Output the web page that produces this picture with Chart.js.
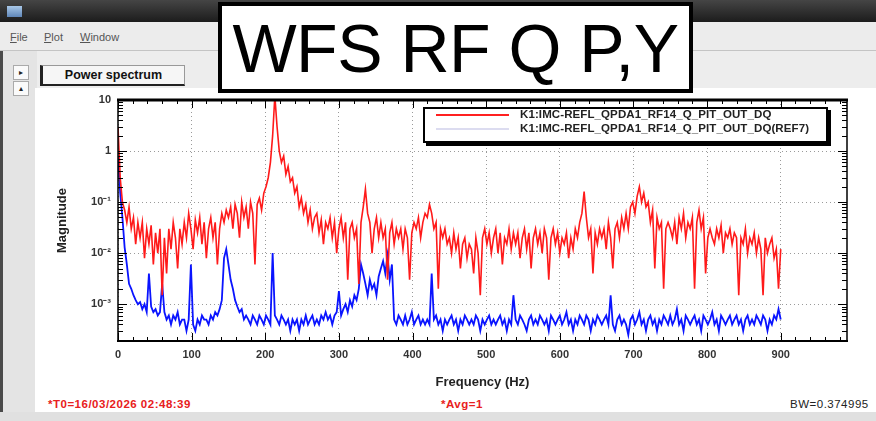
<!DOCTYPE html>
<html>
<head>
<meta charset="utf-8">
<script src="https://cdn.jsdelivr.net/npm/chart.js@4.4.1/dist/chart.umd.min.js"></script>
<style>
  body { margin:0; width:876px; height:421px; overflow:hidden; position:relative; background:#e6e6e6; font-family:"Liberation Sans", Arial, sans-serif; }
  .abs { position:absolute; }
  #titlebar { left:0; top:0; width:876px; height:22px; background:linear-gradient(#454545,#1c1c1c); }
  #icon { left:7px; top:6px; width:15px; height:11px; background:linear-gradient(#a9c8e8,#5f86b8); }
  #menubar { left:0; top:22px; width:876px; height:28px; background:#ececec; border-bottom:1px solid #c4c4c4; }
  .menu { top:31px; font-size:11px; color:#555; }
  #tabarea { left:0; top:51px; width:876px; height:38px; background:#ededed; }
  #tabbtn { left:40px; top:65px; width:141px; height:18px; background:#f6f6f6; border:1px solid #999; border-left:3px solid #222; border-bottom:2px solid #222; font-weight:bold; font-size:12.5px; color:#111; text-align:center; line-height:18px; }
  .sbtn { left:13px; width:14px; height:13px; background:#fafafa; border:1px solid #aaa; font-size:8px; text-align:center; line-height:13px; color:#222; }
  #leftstrip { left:0; top:51px; width:34px; height:370px; background:#e4e4e4; border-left:3px solid #4a4a4a; }
  #panel { left:35px; top:88px; width:841px; height:324px; background:#fff; }
  #bottomstrip { left:0; top:412px; width:876px; height:9px; background:#e0e0e0; }
  #overlay { left:218px; top:2px; width:467px; height:83px; border:4px solid #000; background:#fff; font-size:68px; line-height:84px; text-align:center; color:#000; z-index:5; letter-spacing:-0.5px; }
  #legend { left:423px; top:107px; width:401px; height:32px; border:2px solid #000; box-shadow:3px 3px 0 #000; background:#fff; z-index:4; }
  .lgline { position:absolute; left:11px; width:73px; height:2px; }
  .lgtext { position:absolute; left:95px; font-size:11.5px; font-weight:bold; color:#222; white-space:nowrap; letter-spacing:0.1px; }
  .foot { top:398px; font-size:11.5px; font-weight:bold; letter-spacing:0.5px; }
  canvas { position:absolute; left:0; top:0; z-index:3; }
</style>
</head>
<body>
<div id="titlebar" class="abs"></div>
<div id="icon" class="abs"></div>
<div id="menubar" class="abs"></div>
<div class="abs menu" style="left:10px"><u>F</u>ile</div>
<div class="abs menu" style="left:44px"><u>P</u>lot</div>
<div class="abs menu" style="left:80px"><u>W</u>indow</div>
<div id="tabarea" class="abs"></div>
<div id="leftstrip" class="abs"></div>
<div class="abs sbtn" style="top:65px">&#9656;</div>
<div class="abs sbtn" style="top:81px">&#9652;</div>
<div id="tabbtn" class="abs">Power spectrum</div>
<div id="panel" class="abs"></div>
<div id="bottomstrip" class="abs"></div>

<div id="overlay" class="abs">WFS RF Q P,Y</div>

<div id="legend" class="abs">
  <div class="lgline" style="top:5px;background:#ff2020"></div>
  <div class="lgtext" style="top:-1px">K1:IMC-REFL_QPDA1_RF14_Q_PIT_OUT_DQ</div>
  <div class="lgline" style="top:19px;background:#dcdcf0"></div>
  <div class="lgtext" style="top:13px">K1:IMC-REFL_QPDA1_RF14_Q_PIT_OUT_DQ(REF7)</div>
</div>

<div class="abs foot" style="left:48px;color:#e82020">*T0=16/03/2026 02:48:39</div>
<div class="abs foot" style="left:441px;color:#e82020">*Avg=1</div>
<div class="abs foot" style="left:790px;color:#222;font-weight:normal">BW=0.374995</div>

<canvas id="spec" width="876" height="421"></canvas>

<script>
// bin spacing of the resampled spectrum (Hz)
const binHz = 3;

// magnitude of the live trace, 0..900 Hz (10 bins per row = 30 Hz)
const redMag = [
  3, 0.3, 0.1, 0.07, 0.04, 0.08, 0.03, 0.05, 0.015, 0.04,
  0.02, 0.04, 0.008, 0.03, 0.015, 0.035, 0.006, 0.025, 0.01, 0.03,
  0.0015, 0.02, 0.004, 0.03, 0.012, 0.04, 0.02, 0.005, 0.03, 0.015,
  0.04, 0.02, 0.06, 0.03, 0.012, 0.045, 0.025, 0.05, 0.015, 0.04,
  0.008, 0.03, 0.05, 0.02, 0.04, 0.006, 0.03, 0.06, 0.04, 0.07,
  0.05, 0.08, 0.03, 0.09, 0.06, 0.02, 0.1, 0.05, 0.08, 0.03,
  0.1, 0.06, 0.006, 0.09, 0.12, 0.07, 0.15, 0.2, 0.3, 0.6,
  2, 12, 3, 1, 0.6, 0.8, 0.35, 0.5, 0.25, 0.3,
  0.15, 0.2, 0.08, 0.12, 0.06, 0.09, 0.04, 0.07, 0.03, 0.05,
  0.06, 0.025, 0.045, 0.015, 0.04, 0.03, 0.05, 0.02, 0.04, 0.01,
  0.03, 0.05, 0.02, 0.04, 0.003, 0.03, 0.04, 0.02, 0.03, 0.0025,
  0.04, 0.08, 0.18, 0.06, 0.04, 0.01, 0.03, 0.05, 0.02, 0.04,
  0.02, 0.03, 0.003, 0.025, 0.04, 0.015, 0.03, 0.02, 0.03, 0.012,
  0.03, 0.02, 0.003, 0.025, 0.04, 0.03, 0.05, 0.02, 0.04, 0.06,
  0.05, 0.09, 0.06, 0.03, 0.04, 0.002, 0.03, 0.02, 0.03, 0.015,
  0.02, 0.01, 0.025, 0.012, 0.02, 0.005, 0.015, 0.02, 0.008, 0.015,
  0.012, 0.004, 0.02, 0.01, 0.0015, 0.02, 0.03, 0.015, 0.025, 0.01,
  0.02, 0.03, 0.01, 0.025, 0.006, 0.02, 0.015, 0.03, 0.012, 0.025,
  0.015, 0.025, 0.008, 0.02, 0.03, 0.012, 0.025, 0.005, 0.02, 0.03,
  0.015, 0.025, 0.01, 0.03, 0.02, 0.003, 0.02, 0.03, 0.015, 0.025,
  0.01, 0.02, 0.015, 0.025, 0.008, 0.02, 0.012, 0.03, 0.02, 0.04,
  0.06, 0.16, 0.05, 0.02, 0.03, 0.004, 0.025, 0.015, 0.03, 0.02,
  0.03, 0.012, 0.04, 0.02, 0.005, 0.03, 0.04, 0.02, 0.05, 0.03,
  0.06, 0.03, 0.08, 0.1, 0.06, 0.13, 0.2, 0.1, 0.15, 0.08,
  0.1, 0.04, 0.07, 0.005, 0.05, 0.03, 0.04, 0.002, 0.03, 0.04,
  0.03, 0.02, 0.04, 0.015, 0.05, 0.03, 0.06, 0.02, 0.04, 0.03,
  0.05, 0.002, 0.04, 0.07, 0.03, 0.05, 0.004, 0.02, 0.03, 0.02,
  0.015, 0.03, 0.02, 0.035, 0.01, 0.025, 0.02, 0.03, 0.015, 0.025,
  0.02, 0.0015, 0.02, 0.015, 0.03, 0.01, 0.02, 0.015, 0.025, 0.01,
  0.02, 0.012, 0.0015, 0.02, 0.01, 0.015, 0.02, 0.008, 0.012, 0.002,
  0.012
];

// magnitude of the reference trace (REF7), same bins
const blueMag = [
  0.8, 0.15, 0.05, 0.013, 6e-3, 2.5e-3, 2e-3, 1.5e-3, 1.2e-3, 1e-3,
  1.1e-3, 8e-4, 1e-3, 7e-4, 4e-3, 9e-4, 7e-4, 8e-4, 6e-4, 7e-4,
  2.5e-3, 7e-4, 5e-4, 6e-4, 4e-4, 6e-4, 5e-4, 7e-4, 4e-4, 5e-4,
  5e-4, 3e-4, 5e-4, 6e-3, 4e-4, 3e-4, 5e-4, 4e-4, 6e-4, 5e-4,
  5e-4, 4e-4, 6e-4, 5e-4, 7e-4, 6e-4, 8e-4, 1.2e-3, 8e-3, 1.2e-2,
  6e-3, 3e-3, 2e-3, 1.2e-3, 9e-4, 7e-4, 8e-4, 5e-4, 6e-4, 5e-4,
  4e-4, 6e-4, 5e-4, 4e-4, 6e-4, 5e-4, 4e-4, 6e-4, 5e-4, 4e-4,
  1e-2, 6e-4, 5e-4, 4e-4, 6e-4, 5e-4, 4e-4, 5e-4, 3e-4, 5e-4,
  4e-4, 5e-4, 3e-4, 5e-4, 4e-4, 6e-4, 4e-4, 5e-4, 6e-4, 4e-4,
  5e-4, 4e-4, 6e-4, 5e-4, 7e-4, 5e-4, 6e-4, 4e-4, 6e-4, 7e-4,
  1.8e-3, 6e-4, 8e-4, 1e-3, 7e-4, 1.2e-3, 9e-4, 1.5e-3, 1.2e-3, 2e-3,
  6e-3, 4e-3, 2.5e-3, 1.5e-3, 3e-3, 2e-3, 2.5e-3, 1.5e-3, 3.5e-3, 5e-3,
  7e-3, 4e-3, 9e-3, 3e-3, 6e-3, 5e-4, 4e-4, 6e-4, 5e-4, 4e-4,
  6e-4, 4e-4, 5e-4, 7e-4, 4e-4, 5e-4, 6e-4, 4e-4, 5e-4, 4e-4,
  5e-4, 4e-4, 4e-3, 5e-4, 6e-4, 4e-4, 5e-4, 3e-4, 5e-4, 4e-4,
  5e-4, 6e-4, 4e-4, 5e-4, 3e-4, 5e-4, 4e-4, 6e-4, 5e-4, 4e-4,
  5e-4, 4e-4, 6e-4, 5e-4, 3e-4, 5e-4, 4e-4, 5e-4, 6e-4, 4e-4,
  5e-4, 4e-4, 5e-4, 6e-4, 4e-4, 5e-4, 3e-4, 5e-4, 4e-4, 1.5e-3,
  5e-4, 4e-4, 6e-4, 5e-4, 4e-4, 3e-4, 5e-4, 6e-4, 4e-4, 5e-4,
  4e-4, 6e-4, 5e-4, 4e-4, 5e-4, 3e-4, 6e-4, 5e-4, 4e-4, 5e-4,
  6e-4, 4e-4, 5e-4, 7e-4, 4e-4, 5e-4, 3e-4, 5e-4, 4e-4, 6e-4,
  5e-4, 4e-4, 6e-4, 5e-4, 3e-4, 5e-4, 4e-4, 6e-4, 5e-4, 4e-4,
  5e-4, 6e-4, 4e-4, 1.5e-3, 4e-4, 3e-4, 5e-4, 6e-4, 4e-4, 5e-4,
  4e-4, 2.5e-4, 5e-4, 6e-4, 4e-4, 5e-4, 7e-4, 4e-4, 5e-4, 3e-4,
  5e-4, 6e-4, 4e-4, 5e-4, 3e-4, 5e-4, 4e-4, 6e-4, 5e-4, 4e-4,
  6e-4, 4e-4, 5e-4, 8e-4, 4e-4, 5e-4, 3e-4, 6e-4, 5e-4, 4e-4,
  5e-4, 6e-4, 4e-4, 5e-4, 3e-4, 6e-4, 5e-4, 4e-4, 5e-4, 7e-4,
  4e-4, 5e-4, 3e-4, 6e-4, 5e-4, 4e-4, 5e-4, 6e-4, 4e-4, 5e-4,
  6e-4, 4e-4, 5e-4, 3e-4, 5e-4, 6e-4, 4e-4, 5e-4, 4e-4, 6e-4,
  5e-4, 4e-4, 6e-4, 5e-4, 3e-4, 5e-4, 4e-4, 6e-4, 5e-4, 8e-4,
  5e-4
];

// axis ticks
const freqTicks = [0, 100, 200, 300, 400, 500, 600, 700, 800, 900];
const magTicks = [1e-3, 1e-2, 1e-1, 1, 10];
const magLabels = { 10: "10", 1: "1", 0.1: "10\u207B\u00B9", 0.01: "10\u207B\u00B2", 0.001: "10\u207B\u00B3" };

const freq = redMag.map((_, i) => i * binHz);
const toPts = (arr) => arr.map((v, i) => ({ x: freq[i], y: v }));

// cadre noir + petites graduations vers l'interieur (style DTT)
const framePlugin = {
  id: "frame",
  afterDatasetsDraw(chart) {
    const { ctx, chartArea: a, scales } = chart;
    const xs = scales.x, ys = scales.y;
    ctx.save();
    ctx.strokeStyle = "#000";
    ctx.lineWidth = 1;
    ctx.beginPath();
    for (let f = 0; f <= xs.max; f += 20) {
      const px = Math.round(xs.getPixelForValue(f)) + 0.5;
      const len = f % 100 === 0 ? 8 : 4;
      ctx.moveTo(px, a.bottom); ctx.lineTo(px, a.bottom - len);
      ctx.moveTo(px, a.top); ctx.lineTo(px, a.top + len);
    }
    for (let e = -4; e <= 1; e++) {
      for (let m = 1; m <= 9; m++) {
        const v = m * Math.pow(10, e);
        if (v < ys.min || v > ys.max) continue;
        const py = Math.round(ys.getPixelForValue(v)) + 0.5;
        const len = m === 1 ? 9 : 5;
        ctx.moveTo(a.left, py); ctx.lineTo(a.left + len, py);
        ctx.moveTo(a.right, py); ctx.lineTo(a.right - len, py);
      }
    }
    ctx.stroke();
    ctx.lineWidth = 3;
    ctx.beginPath(); ctx.moveTo(a.left - 1, a.top); ctx.lineTo(a.right + 1, a.top); ctx.stroke();
    ctx.lineWidth = 2;
    ctx.beginPath(); ctx.moveTo(a.left - 1, a.bottom); ctx.lineTo(a.right + 1, a.bottom); ctx.stroke();
    ctx.lineWidth = 1.5;
    ctx.beginPath();
    ctx.moveTo(a.left, a.top); ctx.lineTo(a.left, a.bottom);
    ctx.moveTo(a.right, a.top); ctx.lineTo(a.right, a.bottom);
    ctx.stroke();
    ctx.restore();
  }
};

const tickFont = { family: "'Liberation Sans', Arial, sans-serif", size: 11, weight: "bold" };
const titleFont = { family: "'Liberation Sans', Arial, sans-serif", size: 13, weight: "bold" };

new Chart(document.getElementById("spec"), {
  type: "line",
  data: {
    datasets: [
      { label: "K1:IMC-REFL_QPDA1_RF14_Q_PIT_OUT_DQ", data: toPts(redMag), borderColor: "#ff1a1a", borderWidth: 1.6, pointRadius: 0, tension: 0 },
      { label: "K1:IMC-REFL_QPDA1_RF14_Q_PIT_OUT_DQ(REF7)", data: toPts(blueMag), borderColor: "#0a14ff", borderWidth: 1.8, pointRadius: 0, tension: 0 }
    ]
  },
  options: {
    responsive: false,
    animation: false,
    layout: { padding: { left: 55, right: 29, top: 100, bottom: 31 } },
    plugins: { legend: { display: false }, tooltip: { enabled: false } },
    scales: {
      x: {
        type: "linear", min: 0, max: 990,
        afterBuildTicks: (s) => { s.ticks = freqTicks.map((v) => ({ value: v })); },
        afterFit: (s) => { s.height = 49; },
        ticks: { font: tickFont, color: "#333", padding: 7, maxRotation: 0 },
        grid: { color: "#9a9a9a", drawTicks: false },
        border: { display: false, dash: [1, 3] },
        title: { display: true, text: "Frequency (Hz)", font: titleFont, color: "#222", padding: 0 }
      },
      y: {
        type: "logarithmic", min: 1.9e-4, max: 10,
        afterBuildTicks: (s) => { s.ticks = magTicks.map((v) => ({ value: v })); },
        afterFit: (s) => { s.width = 63; },
        ticks: { font: tickFont, color: "#333", padding: 7, callback: (v) => magLabels[v] || "" },
        grid: { color: "#9a9a9a", drawTicks: false },
        border: { display: false, dash: [1, 3] },
        title: { display: true, text: "Magnitude", font: titleFont, color: "#222", padding: 0 }
      }
    }
  },
  plugins: [framePlugin]
});
</script>
</body>
</html>
